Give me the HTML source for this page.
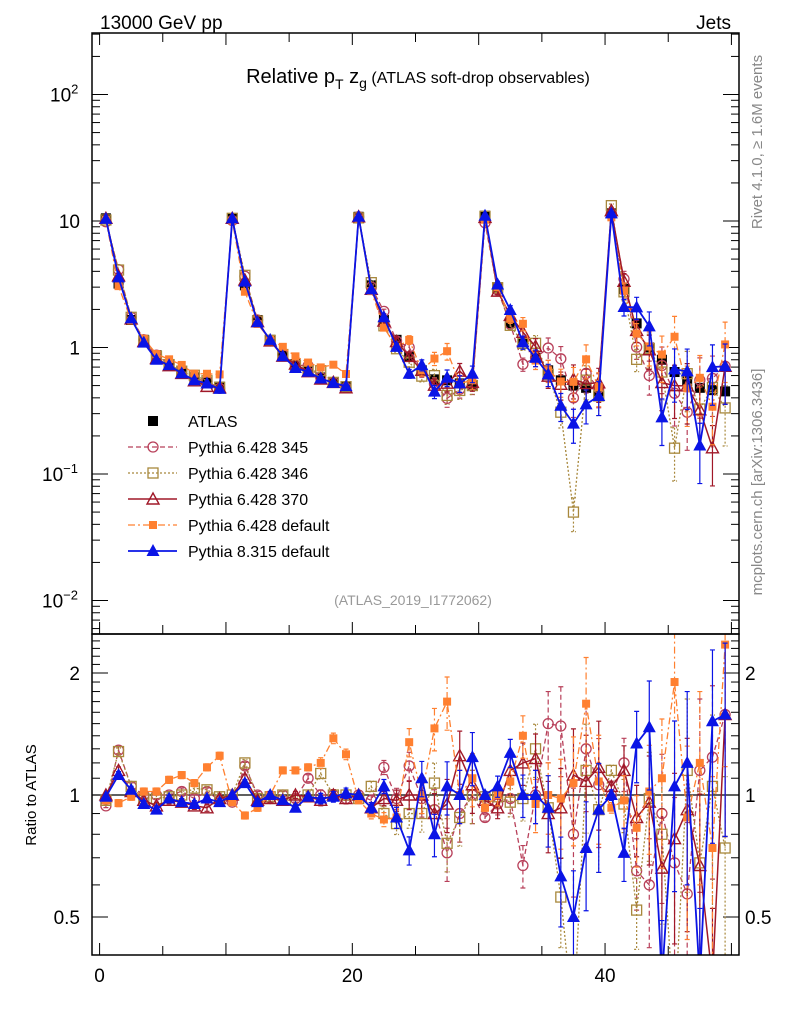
<!DOCTYPE html>
<html><head><meta charset="utf-8"><style>
html,body{margin:0;padding:0;background:#fff;width:786px;height:1024px;overflow:hidden}
svg{display:block;font-family:"Liberation Sans",sans-serif}
</style></head><body>
<svg id="c" width="786" height="1024" viewBox="0 0 786 1024" xmlns="http://www.w3.org/2000/svg">
<defs>
<clipPath id="cm"><rect x="92" y="33" width="647" height="601"/></clipPath>
<clipPath id="cr"><rect x="92" y="634" width="647" height="321"/></clipPath>
</defs>
<text x="100" y="29" font-size="19">13000 GeV pp</text>
<text x="731" y="29" font-size="19" text-anchor="end">Jets</text>
<text x="418" y="83" font-size="20" text-anchor="middle">Relative p<tspan font-size="14" dy="6">T</tspan><tspan dy="-6"> z</tspan><tspan font-size="14" dy="5">g</tspan><tspan dy="-5" font-size="16"> (ATLAS soft-drop observables)</tspan></text>
<text transform="translate(762,142) rotate(-90)" font-size="15" fill="#888" text-anchor="middle">Rivet 4.1.0, ≥ 1.6M events</text>
<text transform="translate(762,482) rotate(-90)" font-size="15" fill="#888" text-anchor="middle">mcplots.cern.ch [arXiv:1306.3436]</text>
<text x="413" y="605" font-size="14" fill="#999" text-anchor="middle">(ATLAS_2019_I1772062)</text>
<text transform="translate(36,795) rotate(-90)" font-size="15" text-anchor="middle">Ratio to ATLAS</text>
<g id="axes"></g>
<g id="main" clip-path="url(#cm)"></g>
<g id="ratio" clip-path="url(#cr)"></g>
<g id="legend"></g>
<rect x="92" y="33" width="647" height="601" fill="none" stroke="#000" stroke-width="1.5"/>
<rect x="92" y="634" width="647" height="321" fill="none" stroke="#000" stroke-width="1.5"/>
</svg>
<script>
const dataVals=[10.5,3.2,1.65,1.15,0.87,0.74,0.65,0.58,0.53,0.49,
10.5,3.1,1.65,1.15,0.88,0.74,0.65,0.58,0.53,0.49,
10.8,3.1,1.65,1.15,0.85,0.66,0.56,0.55,0.52,0.5,
11,3.0,1.56,1.1,0.83,0.66,0.55,0.5,0.48,0.45,
11.5,2.9,1.55,1.0,0.8,0.64,0.54,0.48,0.46,0.45];
const ratio345=[0.94,1.29,1.05,1.0,1.0,1.0,1.02,0.98,1.02,0.97,
0.96,1.18,1.0,0.98,1.0,0.98,1.1,1.0,1.0,0.98,
1.0,0.97,1.17,0.98,1.18,0.98,0.92,0.72,0.9,1.0,
0.88,0.95,0.98,0.67,1.0,1.5,1.48,0.8,1.3,1.06,
1.0,1.2,0.65,0.6,0.9,0.68,0.57,1.15,1.24,1.58];
const ratio346=[0.97,1.28,1.05,0.98,0.98,0.99,1.0,1.04,1.03,0.99,
1.0,1.2,0.98,0.99,1.0,0.97,1.0,1.13,1.0,1.0,
0.98,1.05,0.9,0.85,0.9,0.9,1.07,0.76,0.88,1.0,
0.99,0.99,0.96,0.98,1.3,0.93,0.56,0.1,1.15,0.92,
1.15,0.95,0.52,0.98,0.8,0.25,1.15,0.68,1.05,0.74];
const ratio370=[1.0,1.15,1.02,0.97,0.94,0.97,0.96,0.94,0.93,0.98,
1.0,1.1,0.97,0.98,0.97,1.0,0.99,0.97,1.0,0.98,
1.0,0.93,0.98,0.97,1.0,1.0,0.9,0.95,1.25,1.06,
0.97,0.93,1.15,1.2,1.23,0.9,0.93,1.12,1.08,1.17,
1.05,1.15,0.88,0.96,0.66,0.78,0.92,0.67,0.35,1.58];
const ratioDef6=[0.97,0.955,0.99,1.02,1.02,1.09,1.12,1.07,1.17,1.25,
0.96,0.89,0.93,1.0,1.15,1.15,1.17,1.2,1.38,1.26,
0.97,0.9,0.87,0.88,1.35,1.0,1.46,1.7,1.0,1.1,
0.93,1.0,1.08,1.4,0.95,1.0,0.98,1.07,1.68,1.08,
0.93,0.97,0.83,1.02,1.1,1.9,0.88,1.2,0.74,2.35];
const ratioPy8=[0.99,1.12,1.03,0.95,0.92,0.98,0.96,0.95,0.98,0.96,
1.0,1.07,0.96,1.0,0.97,0.93,0.99,0.98,0.99,1.01,
1.0,0.93,1.05,0.88,0.73,1.1,0.8,1.05,1.0,1.24,
1.0,1.05,1.27,1.0,1.0,0.93,0.63,0.5,0.74,0.92,
1.0,0.72,1.34,1.47,0.35,1.05,1.2,0.35,1.52,1.58];
const relErr=[0.01,0.02,0.02,0.02,0.02,0.02,0.02,0.02,0.02,0.02,
0.01,0.02,0.02,0.02,0.02,0.02,0.02,0.03,0.03,0.03,
0.01,0.03,0.04,0.06,0.08,0.1,0.12,0.15,0.15,0.15,
0.02,0.06,0.08,0.12,0.15,0.2,0.25,0.3,0.3,0.3,
0.03,0.15,0.2,0.3,0.4,0.45,0.5,0.5,0.5,0.5];
const xTicks=[0,20,40];
const ratioTicks=[0.5,1,2];

const NS="http://www.w3.org/2000/svg";
const X0=-0.6,X1=50.6,PX0=92,PX1=739;
const clampY=y=>Math.max(0,Math.min(1020,y));
const xs=v=>PX0+(v-X0)/(X1-X0)*(PX1-PX0);
const yMain=v=>clampY(221-126.5*(Math.log10(v)-1));
const yRat=v=>clampY(795-122*Math.log2(v));
function mk(tag,attrs,parent){const e=document.createElementNS(NS,tag);for(const k in attrs)e.setAttribute(k,attrs[k]);parent.appendChild(e);return e;}
const axes=document.getElementById('axes'),gm=document.getElementById('main'),gr=document.getElementById('ratio'),gl=document.getElementById('legend');

for(let v=0;v<=50;v++){const major=v%10===0;const mid=v%5===0;const L=major?12:(mid?9:5);
 if(!(mid||major))continue;const x=xs(v);
 let t=mk('line',{x1:x,x2:x,y1:955,y2:955-L,stroke:'#000'},axes);
 
 t=mk('line',{x1:x,x2:x,y1:634,y2:634-L,stroke:'#000'},axes);
 
 t=mk('line',{x1:x,x2:x,y1:33,y2:33+L,stroke:'#000'},axes);
 
}
xTicks.forEach(v=>{const t=mk('text',{x:xs(v),y:982,'font-size':19,'text-anchor':'middle'},axes);t.textContent=v;
 });
for(let d=-3;d<=2;d++){for(let m=1;m<=9;m++){const v=m*Math.pow(10,d);const y=221-126.5*(Math.log10(v)-1);if(y<33||y>634)continue;
 const L=m===1?16:8;
 let t=mk('line',{x1:92,x2:92+L,y1:y,y2:y,stroke:'#000'},axes);
 
 t=mk('line',{x1:739,x2:739-L,y1:y,y2:y,stroke:'#000'},axes);
 }}
const mainLabels=[[100,'10','2'],[10,'10',''],[1,'1',''],[0.1,'10','−1'],[0.01,'10','−2']];
mainLabels.forEach(l=>{const t=mk('text',{x:80,y:yMain(l[0])+7,'font-size':19,'text-anchor':'end'},axes);t.textContent=l[1];
 if(l[2]){const s=mk('tspan',{'font-size':13,dy:-8},t);s.textContent=l[2];t.removeAttribute('text-anchor');t.setAttribute('x',l[2].length>1?42:50);}
 });
for(let v=0.4;v<=2.5;v+=0.1){const y=795-122*Math.log2(v);if(y<634||y>955)continue;const L=Math.abs(v-Math.round(v))<0.01||Math.abs(v-0.5)<0.01?16:8;
 let t=mk('line',{x1:92,x2:92+L,y1:y,y2:y,stroke:'#000'},axes);
 
 t=mk('line',{x1:739,x2:739-L,y1:y,y2:y,stroke:'#000'},axes);
 }
ratioTicks.forEach(v=>{let t=mk('text',{x:80,y:yRat(v)+7,'font-size':19,'text-anchor':'end'},axes);t.textContent=v;
 
 t=mk('text',{x:745,y:yRat(v)+7,'font-size':19},axes);t.textContent=v;
 });
let one=mk('line',{x1:92,x2:739,y1:yRat(1),y2:yRat(1),stroke:'#000','stroke-width':1.2},gr);


function marker(g,type,x,y,col){const s=5;let e;
 if(type==='sqf')e=mk('rect',{x:x-s,y:y-s,width:2*s,height:2*s,fill:col},g);
 else if(type==='sqfs')e=mk('rect',{x:x-4,y:y-4,width:8,height:8,fill:col},g);
 else if(type==='sqo')e=mk('rect',{x:x-s,y:y-s,width:2*s,height:2*s,fill:'none',stroke:col,'stroke-width':1.3},g);
 else if(type==='circ')e=mk('circle',{cx:x,cy:y,r:5,fill:'none',stroke:col,'stroke-width':1.3},g);
 else if(type==='trio')e=mk('polygon',{points:`${x},${y-6} ${x+6},${y+5} ${x-6},${y+5}`,fill:'none',stroke:col,'stroke-width':1.4},g);
 else e=mk('polygon',{points:`${x},${y-7} ${x+6.5},${y+5} ${x-6.5},${y+5}`,fill:col},g);
 return e;}
const series=[
 {name:'pythia-6-428-345',r:ratio345,col:'#b8405a',dash:'5,3',m:'circ',w:1.3},
 {name:'pythia-6-428-346',r:ratio346,col:'#a8883c',dash:'2,2',m:'sqo',w:1.3},
 {name:'pythia-6-428-370',r:ratio370,col:'#a01828',dash:'',m:'trio',w:1.5},
 {name:'pythia-6-428-default',r:ratioDef6,col:'#ff8030',dash:'7,3,2,3',m:'sqfs',w:1.3},
 {name:'pythia-8-315-default',r:ratioPy8,col:'#0a14e6',dash:'',m:'trif',w:1.8}];
function drawSeries(g,ys,vals,s,panel){
 let d='';vals.forEach((v,i)=>{const x=xs(i+0.5),y=ys(Math.max(v,1e-4));d+=(i?'L':'M')+x+','+y;});
 const p=mk('path',{d:d,fill:'none',stroke:s.col,'stroke-width':s.w,'stroke-dasharray':s.dash},g);
 
 vals.forEach((v,i)=>{const x=xs(i+0.5);const e=relErr[i]*v;const y1=ys(v+e),y2=ys(Math.max(v-e,1e-4));
  if(y2-y1>3){const eb=mk('path',{d:`M${x},${y1}L${x},${y2}M${x-2.5},${y1}L${x+2.5},${y1}M${x-2.5},${y2}L${x+2.5},${y2}`,stroke:s.col,'stroke-width':1.2,'stroke-dasharray':s.dash,fill:'none'},g);
   }
  const mkr=marker(g,s.m,x,ys(Math.max(v,1e-4)),s.col);
  });
}
dataVals.forEach((v,i)=>{const m=marker(gm,'sqf',xs(i+0.5),yMain(v),'#000');
 });
series.forEach(s=>{
 drawSeries(gm,yMain,dataVals.map((v,i)=>v*s.r[i]),s,'main');
 drawSeries(gr,yRat,s.r,s,'ratio');});
const leg=[['ATLAS',null],['Pythia 6.428 345',series[0]],['Pythia 6.428 346',series[1]],['Pythia 6.428 370',series[2]],['Pythia 6.428 default',series[3]],['Pythia 8.315 default',series[4]]];
leg.forEach((l,i)=>{const y=421+i*26;const g=mk('g',{},gl);
 
 if(!l[1])marker(g,'sqf',153,y,'#000');
 else{mk('line',{x1:128,x2:177,y1:y,y2:y,stroke:l[1].col,'stroke-width':l[1].w,'stroke-dasharray':l[1].dash},g);marker(g,l[1].m,153,y,l[1].col);}
 const t=mk('text',{x:188,y:y+6,'font-size':16},g);t.textContent=l[0];});
</script>
</body></html>
